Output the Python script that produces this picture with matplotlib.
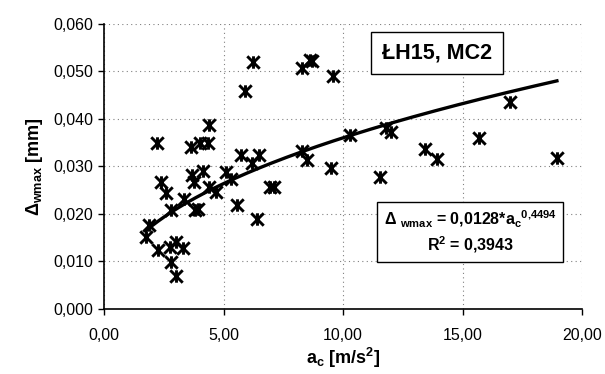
import numpy as np
import matplotlib.pyplot as plt
from matplotlib.path import Path
from matplotlib.ticker import FuncFormatter, MultipleLocator

# measured points: acceleration a_c [m/s2] and deflection Delta_wmax [mm]
ac = [1.75, 1.9, 2.2, 2.25, 2.4, 2.6, 2.75, 2.8, 2.8, 3.0, 3.0, 3.3, 3.35,
      3.65, 3.7, 3.75, 3.8, 3.95, 4.0, 4.15, 4.35, 4.4, 4.4, 4.7, 5.1, 5.3,
      5.55, 5.75, 5.9, 6.2, 6.25, 6.4, 6.5, 6.95, 7.1, 8.3, 8.6, 8.7, 8.3,
      8.5, 9.5, 9.6, 10.3, 11.55, 11.8, 12.0, 13.45, 13.95, 15.7, 17.0, 18.95]
dw = [0.0152, 0.0177, 0.0350, 0.0124, 0.0267, 0.0244, 0.0131, 0.0099, 0.0208,
      0.0141, 0.0069, 0.0128, 0.0232, 0.0341, 0.0282, 0.0267, 0.0208, 0.0210,
      0.0350, 0.0290, 0.0350, 0.0387, 0.0257, 0.0246, 0.0288, 0.0274, 0.0219,
      0.0324, 0.0459, 0.0307, 0.0520, 0.0189, 0.0324, 0.0257, 0.0257, 0.0507,
      0.0524, 0.0522, 0.0332, 0.0314, 0.0296, 0.0490, 0.0366, 0.0278, 0.0381,
      0.0373, 0.0337, 0.0316, 0.0360, 0.0436, 0.0318]

# power trendline shown on the chart
coef_a = 0.0128
coef_b = 0.4494
r2 = 0.3943

plt.rcParams['font.family'] = ['Liberation Sans', 'DejaVu Sans']
plt.rcParams['mathtext.fontset'] = 'custom'
plt.rcParams['mathtext.bf'] = 'Liberation Sans:bold'
plt.rcParams['mathtext.rm'] = 'Liberation Sans:bold'
plt.rcParams['mathtext.default'] = 'bf'

# excel-like star marker: X with a vertical bar
star = Path([(0, -1), (0, 1), (-1, -1), (1, 1), (-1, 1), (1, -1)],
            [Path.MOVETO, Path.LINETO] * 3)

fig = plt.figure(figsize=(6.05, 3.74), dpi=100)
ax = fig.add_axes([0.172, 0.174, 0.790, 0.762])

ax.scatter(ac, dw, marker=star, s=80, color="black", linewidths=2.1, zorder=3)

xs = np.linspace(min(ac), max(ac), 200)
ax.plot(xs, coef_a * xs ** coef_b, color="black", lw=2.4, zorder=4)

ax.set_xlim(0, 20)
ax.set_ylim(0, 0.06)
ax.xaxis.set_major_locator(MultipleLocator(5))
ax.yaxis.set_major_locator(MultipleLocator(0.01))
ax.xaxis.set_major_formatter(FuncFormatter(lambda v, p: f"{v:.2f}".replace(".", ",")))
ax.yaxis.set_major_formatter(FuncFormatter(lambda v, p: f"{v:.3f}".replace(".", ",")))
ax.tick_params(labelsize=11.5, length=4, width=1, color="black")
ax.tick_params(axis="y", pad=4)
ax.tick_params(axis="x", pad=10)

ax.grid(True, color="grey", linestyle=(0, (1, 3)), linewidth=0.8)
ax.set_axisbelow(True)
for s in ["top", "right"]:
    ax.spines[s].set_visible(False)
for s in ["left", "bottom"]:
    ax.spines[s].set_linewidth(1.2)

ax.set_ylabel(r"$\Delta_{wmax}$ [mm]", fontsize=13, fontweight="bold", labelpad=6)
ax.set_xlabel(r"a$_{c}$ [m/s$^{2}$]", fontsize=13, fontweight="bold", labelpad=2)

ax.text(0.697, 0.898, "ŁH15, MC2", transform=ax.transAxes, ha="center", va="center",
        fontsize=15.5, fontweight="bold",
        bbox=dict(boxstyle="square,pad=0.5", facecolor="white", edgecolor="black", lw=1))

eq = (r"$\Delta$ $_{wmax}$ = 0,0128*a$_{c}$$^{0{,}4494}$" + "\n" +
      r"R$^{2}$ = " + f"{r2:.4f}".replace(".", ","))
ax.text(0.766, 0.27, eq, transform=ax.transAxes, ha="center", va="center",
        fontsize=11.5, fontweight="bold", linespacing=1.3, multialignment="center",
        bbox=dict(boxstyle="square,pad=0.4", facecolor="white", edgecolor="black", lw=1))

fig.savefig("out.png", dpi=100)
